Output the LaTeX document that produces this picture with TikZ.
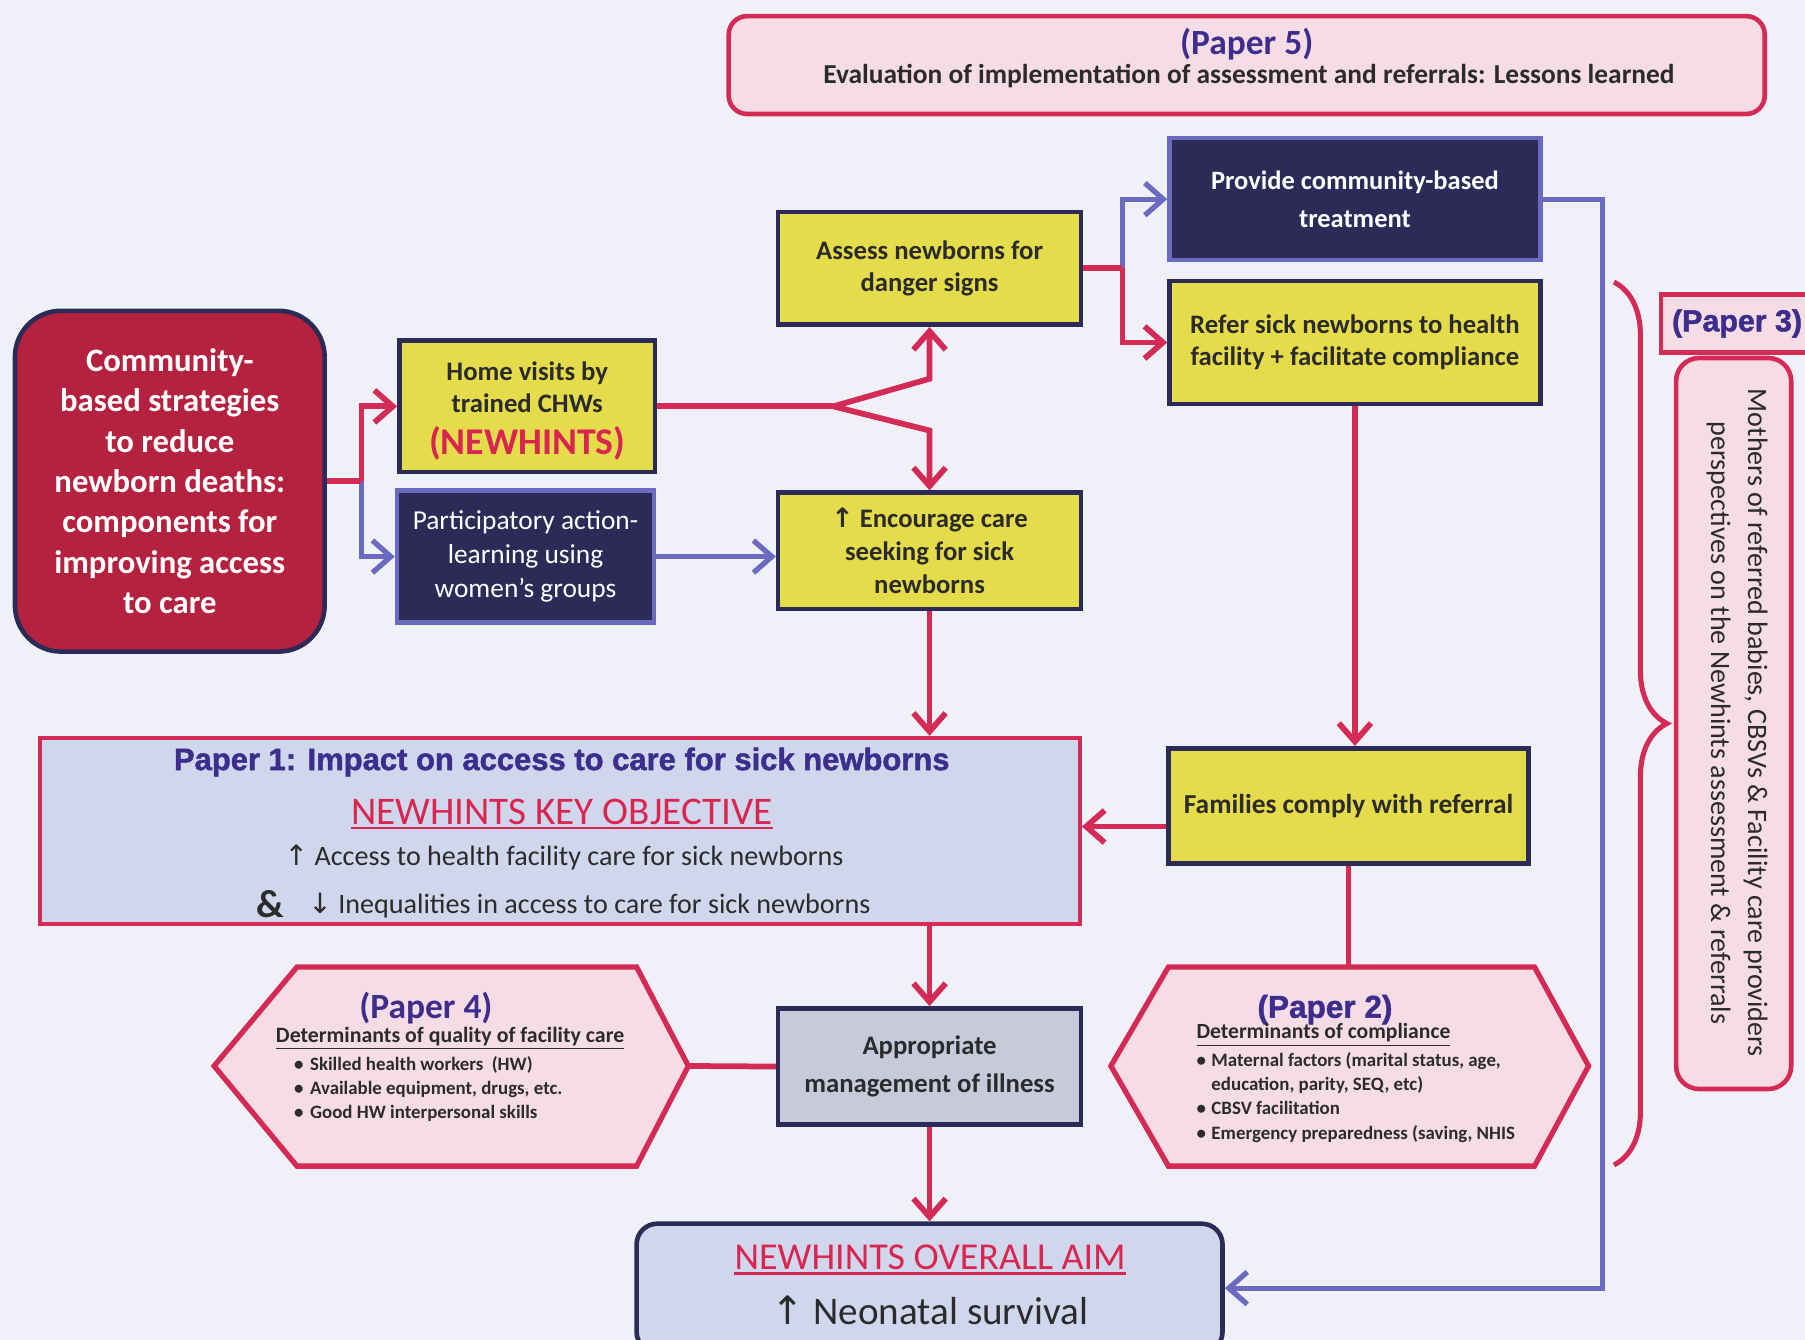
\documentclass[tikz,border=0pt]{standalone}
\usepackage{fontspec}
\setmainfont{Carlito}
\newfontfamily\arialf{Liberation Sans}[BoldFeatures={FakeBold=1.5}]
\newfontfamily\symf{DejaVu Sans}
\usetikzlibrary{arrows.meta,calc,decorations.pathreplacing}
\definecolor{crim}{HTML}{D32B55}
\definecolor{redfill}{HTML}{B52240}
\definecolor{yel}{HTML}{E5DC4C}
\definecolor{navy}{HTML}{2C2B58}
\definecolor{blu}{HTML}{6A6BC0}
\definecolor{pinkf}{HTML}{F6DCE5}
\definecolor{lbl}{HTML}{D0D7EC}
\definecolor{grayb}{HTML}{C6CADB}
\definecolor{purp}{HTML}{3D2E8E}
\definecolor{dtxt}{HTML}{2B2B2B}
\definecolor{redtxt}{HTML}{D9254F}
\definecolor{bgc}{HTML}{F0F1F8}
\newcommand\fs[2]{\fontsize{#1}{#2}\selectfont}
\newcommand\upar{{\symf\char"2191}}
\newcommand\dnar{{\symf\char"2193}}
\tikzset{
  barbtip/.tip={Straight Barb[length=8pt,width=14pt]},
  redln/.style={draw=crim, line width=2.5pt},
  bluln/.style={draw=blu, line width=2.3pt},
  ybox/.style={draw=navy, line width=2pt, fill=yel, text=dtxt, align=center, inner sep=0pt, font=\bfseries\fs{11.6}{14}},
  nbox/.style={draw=blu, line width=2pt, fill=navy, text=white, align=center, inner sep=0pt},
  pbox/.style={draw=crim, line width=2pt, fill=pinkf, inner sep=0pt},
  txt/.style={inner sep=0pt, text=dtxt, align=center},
  hexst/.style={draw=crim, line width=2.3pt, fill=pinkf, line join=miter},
}
\begin{document}
\begin{tikzpicture}[x=0.5pt,y=-0.5pt]
\fill[bgc] (0,0) rectangle (1568,1164);
\useasboundingbox (0,0) rectangle (1568,1164);

% Paper 5
\node[pbox, rounded corners=8pt, minimum width=450pt, minimum height=42.5pt] (p5) at (1083,56.5) {};
\node[txt, text=purp, font=\bfseries\fs{15.4}{18}] (p5t) at (1083,38) {(Paper 5)};
\node[txt, font=\bfseries\fs{11.9}{13}] (p5s) at (1085,66) {Evaluation of implementation of assessment and referrals: Lessons learned};

% main boxes
\node[nbox, font=\bfseries\fs{11.5}{16.5}, minimum width=161pt, minimum height=53pt] (provide) at (1177,173) {Provide community-based\\treatment};
\node[ybox, minimum width=131.5pt, minimum height=49pt] (assess) at (807.5,233) {Assess newborns for\\danger signs};
\node[ybox, minimum width=161pt, minimum height=53.5pt] (refer) at (1177,297.5) {Refer sick newborns to health\\facility + facilitate compliance};
\node[draw=navy, line width=2pt, fill=redfill, rounded corners=20pt, minimum width=134.5pt, minimum height=148pt, text=white, font=\bfseries\fs{14.2}{17.5}, align=center, inner sep=0pt] (redbox) at (147.5,418) {Community-\\based strategies\\to reduce\\newborn deaths:\\components for\\improving access\\to care};
\node[ybox, minimum width=111pt, minimum height=57pt] (home) at (458,353) {};
\node[txt, font=\bfseries\fs{11.6}{14}] (homet) at (458,357) {Home visits by\\trained CHWs\\[4pt]{\color{redtxt}\fs{16.4}{19}(NEWHINTS)}};
\node[nbox, font=\fs{11.9}{14.75}, minimum width=111.5pt, minimum height=57.5pt] (partic) at (456.5,483.5) {Participatory action-\\learning using\\women’s groups};
\node[ybox, font=\bfseries\fs{11.6}{14.25}, minimum width=131.5pt, minimum height=50.5pt] (encourage) at (807.5,478.5) {\upar\ Encourage care\\seeking for sick\\newborns};
\node[ybox, font=\bfseries\fs{11.9}{14}, minimum width=156.5pt, minimum height=50pt] (families) at (1171.5,700) {Families comply with referral};
\node[draw=navy, line width=2pt, fill=grayb, text=dtxt, align=center, inner sep=0pt, font=\bfseries\fs{11.6}{16.5}, minimum width=131.5pt, minimum height=50.5pt] (approp) at (807.5,926.5) {Appropriate\\management of illness};

% Paper 1 box
\node[draw=crim, line width=1.8pt, fill=lbl, minimum width=451.5pt, minimum height=81pt, inner sep=0pt] (paper1) at (486.5,722) {};
\node[txt, text=purp, font=\arialf\bfseries\fs{13.45}{15}] (p1t) at (488,662) {Paper 1: Impact on access to care for sick newborns};
\node[txt, text=redtxt, font=\fs{17}{19}] (kobj) at (488,705) {NEWHINTS KEY OBJECTIVE};
\draw[redtxt, line width=1pt] ($(kobj.south west)+(0,3)$) -- ($(kobj.south east)+(0,3)$);
\node[txt, font=\fs{12.2}{13}] (acc) at (490,745) {\upar\ Access to health facility care for sick newborns};
\node[txt, font=\bfseries\fs{17}{20}] (amp) at (235,785) {\&};
\node[txt, font=\fs{12.2}{13}] (ineq) at (512,787) {\dnar\ Inequalities in access to care for sick newborns};

% Overall aim
\node[draw=navy, line width=2pt, fill=lbl, rounded corners=9pt, minimum width=254.5pt, minimum height=56pt, inner sep=0pt] (aim) at (807.5,1119) {};
\node[txt, text=redtxt, font=\fs{16.5}{19}] (aimt) at (808,1092) {NEWHINTS OVERALL AIM};
\draw[redtxt, line width=1pt] ($(aimt.south west)+(0,3)$) -- ($(aimt.south east)+(0,3)$);
\node[txt, font=\fs{17}{20}] (aims) at (808,1138) {\upar\ Neonatal survival};

% Paper 4 hexagon
\draw[hexst] (186,926) coordinate (p4l) -- (258,840) -- (553,840) coordinate (p4t) -- (598,926) coordinate (p4r) -- (553,1013) -- (258,1013) -- cycle;
\node[txt, text=purp, font=\bfseries\fs{15.4}{18}] (p4h) at (370,876) {(Paper 4)};
\node[txt, font=\bfseries\fs{9.5}{10}] (p4s) at (391,902) {\underline{Determinants of quality of facility care}};
\node[txt, align=left, anchor=west, font=\bfseries\fs{8.2}{10.5}] (p4b) at (255,946) {\makebox[7pt][l]{\textbullet}Skilled health workers\ \ (HW)\\\makebox[7pt][l]{\textbullet}Available equipment, drugs, etc.\\\makebox[7pt][l]{\textbullet}Good HW interpersonal skills};

% Paper 2 hexagon
\draw[hexst] (965,926) coordinate (p2l) -- (1015,840) -- (1172,840) coordinate (p2t) -- (1333,840) -- (1380,926) -- (1333,1013) -- (1015,1013) -- cycle;
\node[txt, text=purp, font=\arialf\bfseries\fs{13.7}{16}] (p2h) at (1151,877) {(Paper 2)};
\node[txt, anchor=west, font=\bfseries\fs{9.4}{11}] (p2s) at (1039,899) {\underline{Determinants of compliance}};
\node[txt, align=left, anchor=north west, font=\bfseries\fs{8.2}{10.5}] (p2b) at (1039,914) {\makebox[6.5pt][l]{\textbullet}Maternal factors (marital status, age,\\\hspace*{6.5pt}education, parity, SEQ, etc)\\\makebox[6.5pt][l]{\textbullet}CBSV facilitation\\\makebox[6.5pt][l]{\textbullet}Emergency preparedness (saving, NHIS};

% Paper 3
\node[pbox, minimum width=66pt, minimum height=25pt, text=purp, font=\arialf\bfseries\fs{13.2}{15}] (p3lab) at (1509,281) {(Paper 3)};
\node[pbox, rounded corners=10pt, minimum width=50pt, minimum height=317.5pt] (p3box) at (1506,628.5) {};
\node[txt, rotate=-90, font=\fs{12.2}{16}] (p3t) at (1509,628) {Mothers of referred babies, CBSVs \& Facility care providers\\perspectives on the Newhints assessment \& referrals};

% brace
\coordinate (bt) at (1402,245);
\coordinate (bb) at (1402,1012);
\draw[crim, line width=2.2pt, decorate, decoration={brace, amplitude=23pt, aspect=0.5}] (bt) -- (bb);

% connectors
\draw[redln,-barbtip] (redbox.east) -- ++(30,0) |- (home.west);
\draw[bluln,-barbtip] (redbox.east) ++(30,0) |- (partic.west);
\draw[redln] (redbox.east) -- ++(30,0);
\draw[redln] (home.east) -- ++(153,0) coordinate (spl);
\draw[redln,-barbtip] (spl) -- ($(assess.south)+(0,45)$) -- (assess.south);
\draw[redln,-barbtip] (spl) -- ($(encourage.north)+(0,-52)$) -- (encourage.north);
\draw[bluln,-barbtip] (partic.east) -- (partic.east -| encourage.west);
\draw[redln] (assess.east) -- ++(34,0) coordinate (asj);
\draw[bluln,-barbtip] (asj) |- (provide.west);
\draw[redln,-barbtip] (asj) |- (refer.west);
\draw[redln] (assess.east) -- (asj);
\draw[bluln,-barbtip] (provide.east) -- ++(52,0) |- (aim.east);
\draw[redln,-barbtip] (refer.south) -- (refer.south |- families.north);
\draw[redln,-barbtip] (encourage.south) -- (encourage.south |- paper1.north);
\coordinate (fw) at ($(families.west)+(0,18)$);
\draw[redln,-barbtip] (fw) -- (fw -| paper1.east);
\draw[redln] (families.south) -- (families.south |- p2t);
\draw[redln,-barbtip] (approp.north |- paper1.south) -- (approp.north);
\draw[redln] (p4r) -- (approp.west);
\draw[redln,-barbtip] (approp.south) -- (aim.north);
\end{tikzpicture}
\end{document}
